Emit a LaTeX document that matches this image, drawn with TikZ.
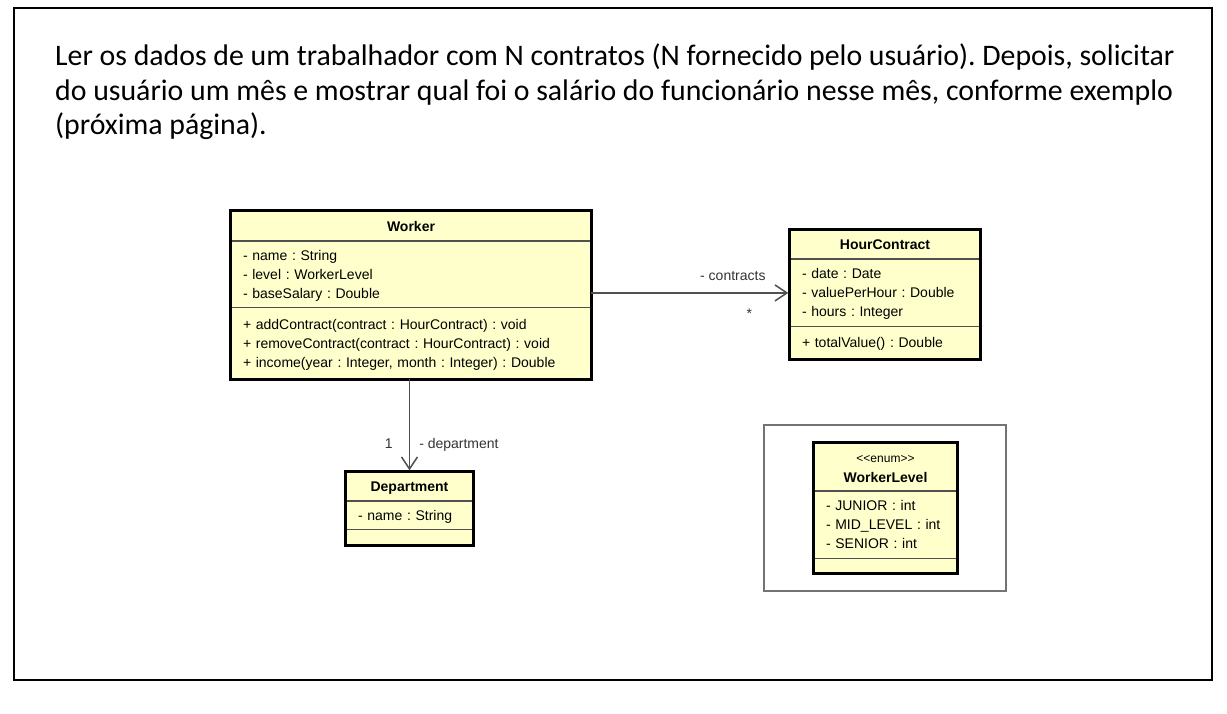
\documentclass[tikz,border=0pt]{standalone}
\usepackage{fontspec}
\setmainfont{Liberation Sans}
\newfontfamily\calibri{Carlito}
\usetikzlibrary{positioning,arrows.meta}
\definecolor{umlfill}{RGB}{255,255,204}
\definecolor{umlline}{RGB}{80,80,80}
\def\umlstrut{\rule[-4.5pt]{0pt}{19pt}}
\frenchspacing

\begin{document}
\begin{tikzpicture}[x=1pt,y=-1pt,
  intro/.style={align=left,inner sep=0pt,
   font=\calibri\fontsize{29.8}{34.5}\selectfont},
  class part/.style={fill=umlfill,inner xsep=12pt,inner ysep=0pt,
   text width=#1},
  class head/.style={class part=#1,align=center,
   font=\fontsize{14}{18}\selectfont\bfseries,
   execute at begin node=\umlstrut,execute at end node=\umlstrut},
  class body/.style={class part=#1,align=left,
   font=\fontsize{14}{19}\selectfont,
   execute at begin node=\umlstrut,execute at end node=\umlstrut},
  class sep/.style={draw=umlline,line width=1.5pt},
  class frame/.style={draw=black,line width=3pt},
  assoc/.style={draw=umlline,line width=1.5pt,
   -{Straight Barb[length=12pt,width=16pt,line width=1.5pt]}},
  role/.style={inner sep=0pt,text=black!80,font=\fontsize{14}{16}\selectfont}]
 \useasboundingbox (0,0) rectangle (1227,713);
 \draw[line width=2.5pt] (14,8) rectangle (1212,680);

 % last line of the text sits on the base anchor
 \node[intro,anchor=base west] (intro) at (55,134.5)
  {Ler os dados de um trabalhador com N contratos (N fornecido pelo usuário). Depois, solicitar\\
   do usuário um mês e mostrar qual foi o salário do funcionário nesse mês, conforme exemplo\\
   (próxima página).};

 % Worker
 \node[class head=336pt,minimum height=30pt] (worker) at (411,226) {Worker};
 \node[class body=336pt,minimum height=66pt,below=0pt of worker] (worker-attr)
  {- name : String\\- level : WorkerLevel\\- baseSalary : Double};
 \node[class body=336pt,minimum height=71pt,below=0pt of worker-attr] (worker-ops)
  {+ addContract(contract : HourContract) : void\\
   + removeContract(contract : HourContract) : void\\
   + income(year : Integer, month : Integer) : Double};

 % HourContract
 \node[class head=166pt,minimum height=29pt] (contract) at (885,244.5) {HourContract};
 \node[class body=166pt,minimum height=67pt,below=0pt of contract] (contract-attr)
  {- date : Date\\- valuePerHour : Double\\- hours : Integer};
 \node[class body=166pt,minimum height=32pt,below=0pt of contract-attr] (contract-ops)
  {+ totalValue() : Double};

 % Department
 \node[class head=103pt,minimum height=29pt] (department) at (409.5,486.5) {Department};
 \node[class body=103pt,minimum height=28pt,below=0pt of department] (department-attr)
  {- name : String};
 \node[class part=103pt,minimum height=15pt,below=0pt of department-attr] (department-ops) {};

 % WorkerLevel
 \node[draw=black!55,line width=1.2pt,minimum width=242pt,minimum height=166pt]
  (levelframe) at (885,508) {};
 \node[class head=119pt,minimum height=48pt] (level) at (885.5,467)
  {{\mdseries\fontsize{12}{18}\selectfont <{}<enum>{}>}\\WorkerLevel};
 \node[class body=119pt,minimum height=67pt,below=0pt of level] (level-attr)
  {- JUNIOR : int\\- MID\_LEVEL : int\\- SENIOR : int};
 \node[class part=119pt,minimum height=14pt,below=0pt of level-attr] (level-ops) {};

 \foreach \c/\d in {worker/worker-ops,contract/contract-ops,
   department/department-ops,level/level-ops}{
  \draw[class sep] (\c-attr.north west) -- (\c-attr.north east);
  \draw[class sep] (\d.north west) -- (\d.north east);
  \draw[class frame] (\c.north west) rectangle (\d.south east);
 }

 \draw[assoc] (worker-attr.east |- contract-attr.west) -- ([xshift=-1.5pt]contract-attr.west)
  node[role,pos=1,anchor=south east,xshift=-22pt,yshift=12pt] {- contracts}
  node[role,pos=1,anchor=base,xshift=-39pt,yshift=-26pt] {*};
 \draw[assoc] (department.north |- worker-ops.south) -- ([yshift=1.5pt]department.north)
  node[role,pos=1,anchor=base east,xshift=-16pt,yshift=22pt] {1}
  node[role,pos=1,anchor=base west,xshift=9pt,yshift=22pt] {- department};
\end{tikzpicture}
\end{document}
